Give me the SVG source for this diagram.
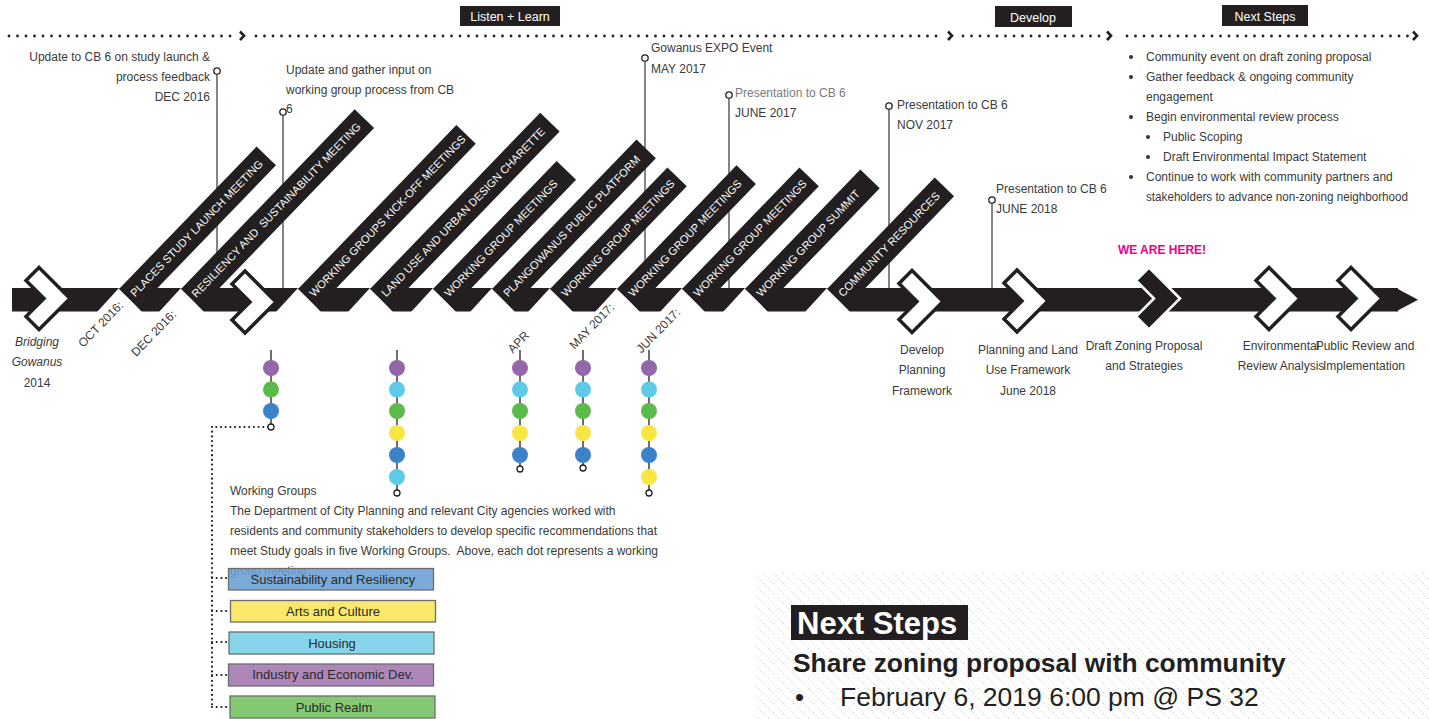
<svg xmlns="http://www.w3.org/2000/svg" width="1429" height="719" viewBox="0 0 1429 719">
<defs>
<style>
text{font-family:"Liberation Sans",Arial,sans-serif;fill:#3a3a3a;font-size:12px}
.bt{fill:#fff;font-size:11px}
.dt{font-size:12px}
.wt{fill:#fff;font-size:12.5px}
.k{fill:#231f20}
.pin{stroke:#333;stroke-width:1.2;fill:none}
.pc{fill:#fff;stroke:#231f20;stroke-width:1.3}
.dots{stroke:#231f20;stroke-width:2.8;stroke-dasharray:0 8.5;stroke-linecap:round;fill:none}
.arr{stroke:#231f20;stroke-width:2.6;fill:none;stroke-linejoin:miter}
.fine{stroke:#231f20;stroke-width:2.2;stroke-dasharray:0 4.7;stroke-linecap:round;fill:none}
.chev{fill:#fff;stroke:#231f20;stroke-width:3.5;stroke-linejoin:miter}
.vl{stroke:#231f20;stroke-width:1.3}
.box{stroke:#6d6d6d;stroke-width:1.3}
.bx{font-size:13px;fill:#2a2a2a}
.c{text-anchor:middle}
.e{text-anchor:end}
</style>
<pattern id="hatch" patternUnits="userSpaceOnUse" width="10" height="10">
<circle cx="1" cy="1" r="0.6" fill="#c4c4c4"/>
<circle cx="3.5" cy="3.5" r="0.6" fill="#c4c4c4"/>
<circle cx="6" cy="6" r="0.6" fill="#c4c4c4"/>
<circle cx="8.5" cy="8.5" r="0.6" fill="#c4c4c4"/>
</pattern>
<polygon id="chv" points="0,0 -31,-31 -44,-18 -26,0 -44,18 -31,31"/>
</defs>

<!-- phase headers -->
<g id="phases">
<rect class="k" x="460" y="6" width="100" height="20"/>
<text class="wt c" x="510" y="21">Listen + Learn</text>
<rect class="k" x="995" y="6" width="77" height="21"/>
<text class="wt c" x="1033" y="21.5">Develop</text>
<rect class="k" x="1222" y="5" width="86" height="21"/>
<text class="wt c" x="1265" y="20.5">Next Steps</text>
</g>

<g id="connectors">
<line class="dots" x1="9" y1="36" x2="236" y2="36"/>
<polyline class="arr" points="240,31.5 244,35.8 240,40"/>
<line class="dots" x1="256" y1="36" x2="944" y2="36"/>
<polyline class="arr" points="948,31.5 952,35.8 948,40"/>
<line class="dots" x1="963" y1="36" x2="1103" y2="36"/>
<polyline class="arr" points="1107,31.5 1111,35.8 1107,40"/>
<line class="dots" x1="1127" y1="36" x2="1409" y2="36"/>
<polyline class="arr" points="1413,31.5 1417,35.8 1413,40"/>
<!-- pins -->
<line class="pin" x1="217" y1="74" x2="217" y2="289"/>
<line class="pin" x1="283" y1="115" x2="283" y2="289"/>
<line class="pin" x1="645" y1="61" x2="645" y2="289"/>
<line class="pin" x1="729" y1="98" x2="729" y2="289"/>
<line class="pin" x1="889" y1="109" x2="889" y2="289"/>
<line class="pin" x1="992" y1="203" x2="992" y2="289"/>
<!-- working group connector -->
<line class="fine" x1="268" y1="427" x2="212" y2="427"/>
<line class="fine" x1="212" y1="427" x2="212" y2="707"/>
<line class="fine" x1="212" y1="578" x2="228" y2="578"/>
<line class="fine" x1="212" y1="611" x2="230" y2="611"/>
<line class="fine" x1="212" y1="642" x2="228" y2="642"/>
<line class="fine" x1="212" y1="675" x2="227" y2="675"/>
<line class="fine" x1="212" y1="707" x2="229" y2="707"/>
</g>

<!-- main bar -->
<g id="timeline">
<rect class="k" x="12" y="288" width="1386" height="23.5"/>
<polygon class="k" points="1396,288 1418,299.8 1396,311.5"/>
<g fill="#fff">
<polygon points="119,288 97,312 142,312"/>
<polygon points="181,288 159,312 204,312"/>
<polygon points="298,288 276,312 321,312"/>
<polygon points="370,288 348,312 393,312"/>
<polygon points="433,288 411,312 456,312"/>
<polygon points="492,288 470,312 515,312"/>
<polygon points="550,288 528,312 573,312"/>
<polygon points="617,288 595,312 640,312"/>
<polygon points="682,288 660,312 705,312"/>
<polygon points="745,288 723,312 768,312"/>
<polygon points="827,288 805,312 850,312"/>
</g>
</g>

<!-- pin circles and labels -->
<g id="pin-dec2016">
<circle class="pc" cx="217" cy="71" r="3.2"/>
<text class="e" x="210" y="61">Update to CB 6 on study launch &amp;</text>
<text class="e" x="210" y="81">process feedback</text>
<text class="e" x="210" y="101">DEC 2016</text>
</g>
<g id="pin-wg">
<circle class="pc" cx="283" cy="112" r="3.2"/>
<text x="286" y="74">Update and gather input on</text>
<text x="286" y="94">working group process from CB</text>
<text x="286" y="113">6</text>
</g>
<g id="pin-expo">
<circle class="pc" cx="645" cy="58" r="3.2"/>
<text x="651" y="52">Gowanus EXPO Event</text>
<text x="651" y="73">MAY 2017</text>
</g>
<g id="pin-jun2017">
<circle class="pc" cx="729" cy="95" r="3.2"/>
<text x="735" y="97" style="fill:#7a7a7a">Presentation to CB 6</text>
<text x="735" y="117">JUNE 2017</text>
</g>
<g id="pin-nov2017">
<circle class="pc" cx="889" cy="106" r="3.2"/>
<text x="897" y="109">Presentation to CB 6</text>
<text x="897" y="129">NOV 2017</text>
</g>
<g id="pin-jun2018">
<circle class="pc" cx="992" cy="200" r="3.2"/>
<text x="996" y="193">Presentation to CB 6</text>
<text x="996" y="213">JUNE 2018</text>
</g>

<!-- diagonal bands -->
<g id="band1" transform="translate(119,289) rotate(-46)"><rect class="k" x="0" y="0" width="198" height="27"/><text class="bt" x="5" y="17.5">PLACES STUDY LAUNCH MEETING</text></g>
<g id="band2" transform="translate(181,289) rotate(-46)"><rect class="k" x="0" y="0" width="250" height="27"/><text class="bt" x="4" y="17.5" xml:space="preserve">RESILIENCY AND  SUSTAINABILITY MEETING</text></g>
<g id="band3" transform="translate(298,289) rotate(-46)"><rect class="k" x="0" y="0" width="228" height="27"/><text class="bt" x="5" y="17.5">WORKING GROUPS KICK-OFF MEETINGS</text></g>
<g id="band4" transform="translate(370,289) rotate(-46)"><rect class="k" x="0" y="0" width="245" height="27"/><text class="bt" x="5" y="17.5">LAND USE AND URBAN DESIGN CHARETTE</text></g>
<g id="band5" transform="translate(433,289) rotate(-46)"><rect class="k" x="0" y="0" width="178" height="27"/><text class="bt" x="5" y="17.5">WORKING GROUP MEETINGS</text></g>
<g id="band6" transform="translate(492,289) rotate(-46)"><rect class="k" x="0" y="0" width="208" height="27"/><text class="bt" x="5" y="17.5">PLANGOWANUS PUBLIC PLATFORM</text></g>
<g id="band7" transform="translate(550,289) rotate(-46)"><rect class="k" x="0" y="0" width="169" height="27"/><text class="bt" x="5" y="17.5">WORKING GROUP MEETINGS</text></g>
<g id="band8" transform="translate(617,289) rotate(-46)"><rect class="k" x="0" y="0" width="172" height="27"/><text class="bt" x="5" y="17.5">WORKING GROUP MEETINGS</text></g>
<g id="band9" transform="translate(682,289) rotate(-46)"><rect class="k" x="0" y="0" width="169" height="27"/><text class="bt" x="5" y="17.5">WORKING GROUP MEETINGS</text></g>
<g id="band10" transform="translate(745,289) rotate(-46)"><rect class="k" x="0" y="0" width="166" height="27"/><text class="bt" x="5" y="17.5">WORKING GROUP SUMMIT</text></g>
<g id="band11" transform="translate(827,289) rotate(-46)"><rect class="k" x="0" y="0" width="155" height="27"/><text class="bt" x="5" y="17.5">COMMUNITY RESOURCES</text></g>

<!-- date labels -->
<g id="dates">
<text class="dt e" transform="translate(124,306) rotate(-46)">OCT 2016:</text>
<text class="dt e" transform="translate(177,315) rotate(-46)">DEC 2016:</text>
<text class="dt e" transform="translate(530,336) rotate(-46)">APR</text>
<text class="dt e" transform="translate(615,308) rotate(-46)">MAY 2017:</text>
<text class="dt e" transform="translate(681,313) rotate(-46)">JUN 2017:</text>
</g>

<!-- chevron milestones -->
<g id="ms-bridging">
<use href="#chv" class="chev" transform="translate(70,298.5)"/>
<text class="c" x="37" y="346" font-style="italic">Bridging</text>
<text class="c" x="37" y="366" font-style="italic">Gowanus</text>
<text class="c" x="37" y="387">2014</text>
</g>
<g id="ms-wg">
<use href="#chv" class="chev" transform="translate(276,302)"/>
</g>
<g id="ms-develop">
<use href="#chv" class="chev" transform="translate(943,301.5)"/>
<text class="c" x="922" y="354">Develop</text>
<text class="c" x="922" y="374">Planning</text>
<text class="c" x="922" y="395">Framework</text>
</g>
<g id="ms-planning">
<use href="#chv" class="chev" transform="translate(1048,301)"/>
<text class="c" x="1028" y="354">Planning and Land</text>
<text class="c" x="1028" y="374">Use Framework</text>
<text class="c" x="1028" y="395">June 2018</text>
</g>
<g id="ms-draft">
<use href="#chv" transform="translate(1180,298.5)" fill="#231f20" stroke="#fff" stroke-width="2.5"/>
<text class="c" x="1144" y="350">Draft Zoning Proposal</text>
<text class="c" x="1144" y="370">and Strategies</text>
<text class="c" x="1162" y="254" style="fill:#ec008c;font-weight:bold">WE ARE HERE!</text>
</g>
<g id="ms-env">
<use href="#chv" class="chev" transform="translate(1300,298.5)"/>
<text class="c" x="1281" y="350">Environmental</text>
<text class="c" x="1281" y="370">Review Analysis</text>
</g>
<g id="ms-public">
<use href="#chv" class="chev" transform="translate(1382,298.5)"/>
<text class="c" x="1365" y="350">Public Review and</text>
<text class="c" x="1364" y="370">Implementation</text>
</g>

<!-- next steps list -->
<g id="next-steps-list">
<circle cx="1131" cy="57" r="2" fill="#333"/>
<text x="1146" y="61">Community event on draft zoning proposal</text>
<circle cx="1131" cy="77" r="2" fill="#333"/>
<text x="1146" y="81">Gather feedback &amp; ongoing community</text>
<text x="1146" y="101">engagement</text>
<circle cx="1131" cy="117" r="2" fill="#333"/>
<text x="1146" y="121">Begin environmental review process</text>
<circle cx="1148" cy="137" r="2" fill="#333"/>
<text x="1163" y="141">Public Scoping</text>
<circle cx="1148" cy="157" r="2" fill="#333"/>
<text x="1163" y="161">Draft Environmental Impact Statement</text>
<circle cx="1131" cy="177" r="2" fill="#333"/>
<text x="1146" y="181">Continue to work with community partners and</text>
<text x="1146" y="201" textLength="262" lengthAdjust="spacingAndGlyphs">stakeholders to advance non-zoning neighborhood</text>
</g>

<!-- meeting dot columns -->
<g id="wg-dots">
<line class="vl" x1="271" y1="350" x2="271" y2="424"/>
<circle cx="271" cy="368" r="8" fill="#9467ab"/>
<circle cx="271" cy="389.5" r="8" fill="#5bbb4a"/>
<circle cx="271" cy="411" r="8" fill="#3b82c8"/>
<circle class="pc" cx="271" cy="427" r="3"/>

<line class="vl" x1="397" y1="350" x2="397" y2="490"/>
<circle cx="397" cy="368" r="8" fill="#9467ab"/>
<circle cx="397" cy="389.5" r="8" fill="#5ecbe6"/>
<circle cx="397" cy="411" r="8" fill="#5bbb4a"/>
<circle cx="397" cy="433" r="8" fill="#f8e643"/>
<circle cx="397" cy="455" r="8" fill="#3b82c8"/>
<circle cx="397" cy="477" r="8" fill="#5ecbe6"/>
<circle class="pc" cx="397" cy="493" r="3"/>

<line class="vl" x1="520" y1="350" x2="520" y2="466"/>
<circle cx="520" cy="368" r="8" fill="#9467ab"/>
<circle cx="520" cy="389.5" r="8" fill="#5ecbe6"/>
<circle cx="520" cy="411" r="8" fill="#5bbb4a"/>
<circle cx="520" cy="433" r="8" fill="#f8e643"/>
<circle cx="520" cy="455" r="8" fill="#3b82c8"/>
<circle class="pc" cx="520" cy="469" r="3"/>

<line class="vl" x1="583" y1="350" x2="583" y2="465"/>
<circle cx="583" cy="368" r="8" fill="#9467ab"/>
<circle cx="583" cy="389.5" r="8" fill="#5ecbe6"/>
<circle cx="583" cy="411" r="8" fill="#5bbb4a"/>
<circle cx="583" cy="433" r="8" fill="#f8e643"/>
<circle cx="583" cy="455" r="8" fill="#3b82c8"/>
<circle class="pc" cx="583" cy="468" r="3"/>

<line class="vl" x1="649" y1="350" x2="649" y2="490"/>
<circle cx="649" cy="368" r="8" fill="#9467ab"/>
<circle cx="649" cy="389.5" r="8" fill="#5ecbe6"/>
<circle cx="649" cy="411" r="8" fill="#5bbb4a"/>
<circle cx="649" cy="433" r="8" fill="#f8e643"/>
<circle cx="649" cy="455" r="8" fill="#3b82c8"/>
<circle cx="649" cy="477" r="8" fill="#f8e643"/>
<circle class="pc" cx="649" cy="493" r="3"/>
</g>

<!-- working groups text -->
<g id="wg-text">
<text x="230" y="495">Working Groups</text>
<text x="230" y="515">The Department of City Planning and relevant City agencies worked with</text>
<text x="230" y="535" textLength="427" lengthAdjust="spacingAndGlyphs">residents and community stakeholders to develop specific recommendations that</text>
<text x="230" y="555" xml:space="preserve">meet Study goals in five Working Groups.  Above, each dot represents a working</text>
<text x="230" y="575">group meeting.</text>
</g>

<g id="wg-sustainability"><rect class="box" x="228.5" y="568.5" width="205" height="21.5" fill="#6a9fd4" fill-opacity="0.88"/><text class="bx c" x="333" y="584">Sustainability and Resiliency</text></g>
<g id="wg-arts"><rect class="box" x="230.5" y="600.5" width="205" height="21.5" fill="#f9e86c"/><text class="bx c" x="333" y="616">Arts and Culture</text></g>
<g id="wg-housing"><rect class="box" x="229" y="632" width="205" height="22" fill="#86d5ea"/><text class="bx c" x="332" y="648">Housing</text></g>
<g id="wg-industry"><rect class="box" x="228.5" y="664" width="205" height="22" fill="#ad87b9"/><text class="bx c" x="333" y="679">Industry and Economic Dev.</text></g>
<g id="wg-public"><rect class="box" x="230" y="696" width="205" height="22" fill="#84c873"/><text class="bx c" x="334" y="712">Public Realm</text></g>

<!-- next steps panel -->
<g id="next-steps-panel">
<rect x="755" y="572" width="674" height="147" fill="url(#hatch)"/>
<rect class="k" x="791" y="605" width="177" height="35"/>
<text x="797" y="634" style="fill:#fff;font-size:31px;font-weight:bold">Next Steps</text>
<text x="793" y="672" style="fill:#231f20;font-size:26.4px;font-weight:bold">Share zoning proposal with community</text>
<text x="795" y="706" style="fill:#231f20;font-size:26px">•</text>
<text x="840" y="706" style="fill:#231f20;font-size:26.5px">February 6, 2019 6:00 pm @ PS 32</text>
</g>
</svg>
